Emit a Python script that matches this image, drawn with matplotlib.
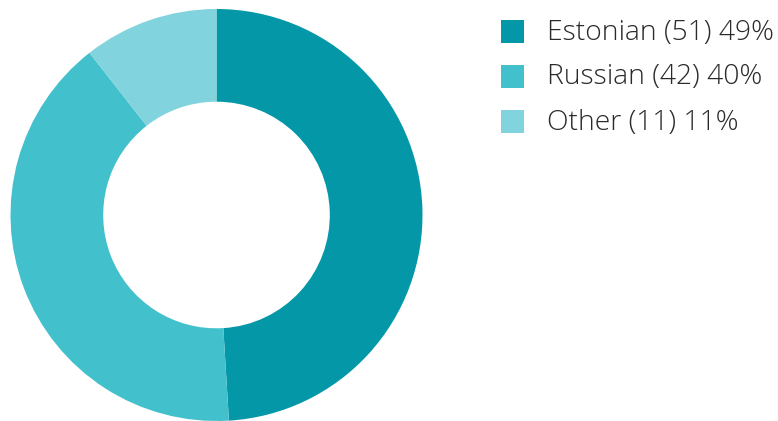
import matplotlib.pyplot as plt
from matplotlib.patches import Rectangle

# Data
labels = ["Estonian", "Russian", "Other"]
counts = [51, 42, 11]
percents = [49, 40, 11]
colors = ["#0397A7", "#42C0CC", "#81D4DD"]

W, H = 778, 421
fig = plt.figure(figsize=(W / 100, H / 100), dpi=100)

# Donut
ax = fig.add_axes([10.5 / W, 0.0, 412 / W, 412 / H])
ax.pie(counts, colors=colors, startangle=90, counterclock=False, radius=1.0,
       wedgeprops=dict(width=0.45, linewidth=0))
ax.set_xlim(-1, 1)
ax.set_ylim(-1, 1)
ax.set_aspect("equal")
ax.axis("off")

# Legend, drawn by hand
y0, step = 31.5, 45
for i, (lab, n, p, c) in enumerate(zip(labels, counts, percents, colors)):
    yc = y0 + i * step
    fig.patches.append(Rectangle((501 / W, 1 - (yc + 11.5) / H), 23 / W, 23 / H,
                                 transform=fig.transFigure, facecolor=c, edgecolor="none"))
    fig.text(547 / W, 1 - (yc + 1) / H, f"{lab} ({n}) {p}%", fontsize=20.3,
             family="Open Sans", fontweight="light", color="#2a2a2a",
             va="center", ha="left")

fig.savefig("out.png", dpi=100)
